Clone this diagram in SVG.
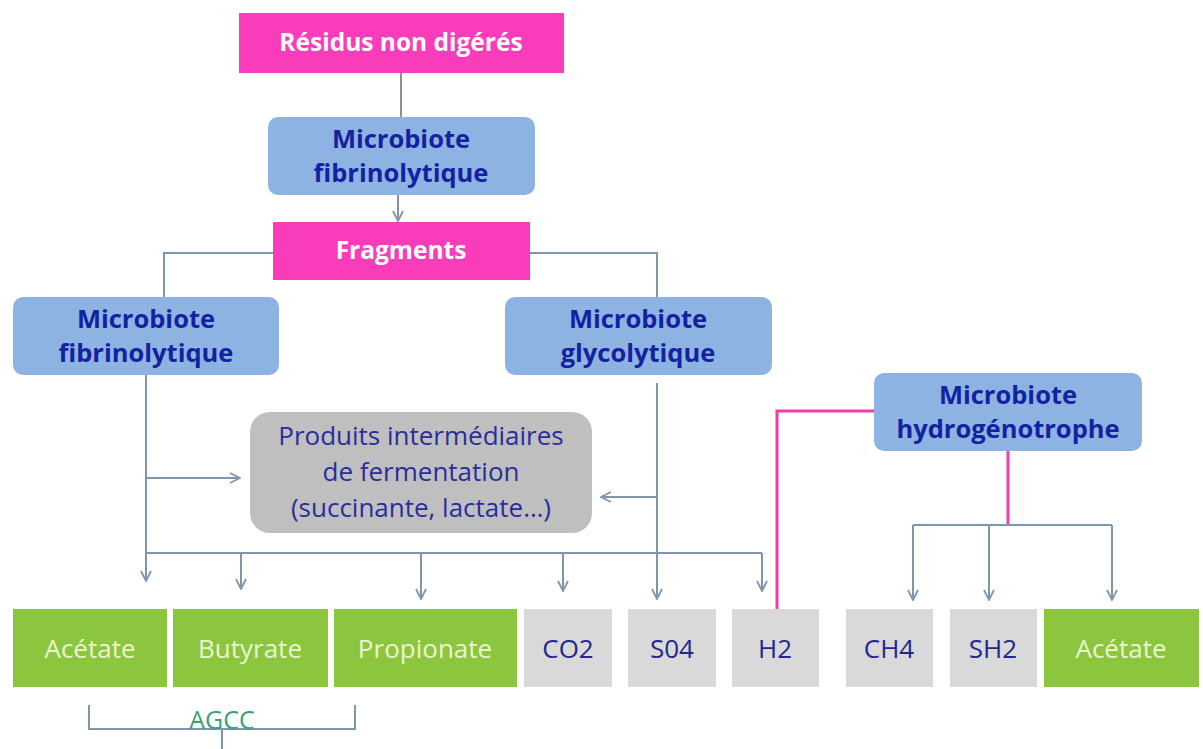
<svg xmlns="http://www.w3.org/2000/svg" width="1203" height="749" viewBox="0 0 1203 749">
<style>
.pink{fill:#F93DBA}
.blue{fill:#8DB3E2}
.gbox{fill:#D9D9D9}
.green{fill:#8CC63F}
.wt{font-family:"Open Sans","Liberation Sans",sans-serif;font-weight:bold;font-size:24.5px;fill:#FFFFFF;text-anchor:middle}
.bt{font-family:"Open Sans","Liberation Sans",sans-serif;font-weight:bold;font-size:25.5px;fill:#1222A0;text-anchor:middle}
.pt{font-family:"Open Sans","Liberation Sans",sans-serif;font-size:26px;fill:#2A2D9C;text-anchor:middle}
.lt{font-family:"Open Sans","Liberation Sans",sans-serif;font-size:26px;text-anchor:middle}
.dk{fill:#23288E}
.lg{fill:#EAF5D2}
.c{fill:none;stroke:#7F95AE;stroke-width:2}
.pk{fill:none;stroke:#EC3FAE;stroke-width:3}
</style>
<defs>
<marker id="ah" viewBox="0 0 12 12" refX="11" refY="6" markerWidth="12" markerHeight="12" markerUnits="userSpaceOnUse" orient="auto">
<path d="M1,1 L11,6 L1,11" fill="none" stroke="#7F95AE" stroke-width="1.8"/>
</marker>
</defs>

<g id="connectors">
<line class="c" x1="401" y1="73" x2="401" y2="117" style="stroke:#8A8F99"/>
<line class="c" x1="398" y1="195" x2="398" y2="221" marker-end="url(#ah)"/>
<path class="c" d="M273,253 H164 V297"/>
<path class="c" d="M530,253 H657 V297"/>
<line class="c" x1="146" y1="375" x2="146" y2="581" marker-end="url(#ah)"/>
<line class="c" x1="146" y1="478" x2="240" y2="478" marker-end="url(#ah)"/>
<line class="c" x1="657" y1="383" x2="657" y2="599" marker-end="url(#ah)"/>
<line class="c" x1="657" y1="497" x2="601" y2="497" marker-end="url(#ah)"/>
<line class="c" x1="146" y1="553" x2="762" y2="553"/>
<line class="c" x1="241" y1="553" x2="241" y2="589" marker-end="url(#ah)"/>
<line class="c" x1="421" y1="553" x2="421" y2="599" marker-end="url(#ah)"/>
<line class="c" x1="563" y1="553" x2="563" y2="591" marker-end="url(#ah)"/>
<line class="c" x1="762" y1="553" x2="762" y2="591" marker-end="url(#ah)"/>
<path class="pk" d="M874,411 H777 V609"/>
<line class="pk" x1="1008" y1="451" x2="1008" y2="524"/>
<line class="c" x1="913" y1="525" x2="1112" y2="525"/>
<line class="c" x1="913" y1="525" x2="913" y2="600" marker-end="url(#ah)"/>
<line class="c" x1="989" y1="525" x2="989" y2="600" marker-end="url(#ah)"/>
<line class="c" x1="1112" y1="525" x2="1112" y2="600" marker-end="url(#ah)"/>
<path class="c" d="M89,705 V729 H355 V705"/>
<line class="c" x1="222" y1="729" x2="222" y2="749"/>
</g>

<g id="residus">
<rect class="pink" x="239" y="13" width="325" height="60"/>
<text class="wt" x="401" y="51">Résidus non digérés</text>
</g>

<g id="microbiote-fibrino-top">
<rect class="blue" x="268" y="117" width="267" height="78" rx="10"/>
<text class="bt" x="401" y="148">Microbiote</text>
<text class="bt" x="401" y="182">fibrinolytique</text>
</g>

<g id="fragments">
<rect class="pink" x="273" y="222" width="257" height="58"/>
<text class="wt" x="401" y="259">Fragments</text>
</g>

<g id="microbiote-fibrino">
<rect class="blue" x="13" y="297" width="266" height="78" rx="10"/>
<text class="bt" x="146" y="328">Microbiote</text>
<text class="bt" x="146" y="362">fibrinolytique</text>
</g>

<g id="microbiote-glyco">
<rect class="blue" x="505" y="297" width="267" height="78" rx="10"/>
<text class="bt" x="638" y="328">Microbiote</text>
<text class="bt" x="638" y="362">glycolytique</text>
</g>

<g id="microbiote-hydro">
<rect class="blue" x="874" y="373" width="268" height="78" rx="10"/>
<text class="bt" x="1008" y="404">Microbiote</text>
<text class="bt" x="1008" y="438">hydrogénotrophe</text>
</g>

<g id="produits">
<rect x="250" y="412" width="342" height="121" rx="20" fill="#BFBFBF"/>
<text class="pt" x="421" y="445">Produits intermédiaires</text>
<text class="pt" x="421" y="481">de fermentation</text>
<text class="pt" x="421" y="517">(succinante, lactate…)</text>
</g>

<g id="acetate1">
<rect class="green" x="13" y="609" width="154" height="78"/>
<text class="lt lg" x="90" y="658">Acétate</text>
</g>
<g id="butyrate">
<rect class="green" x="173" y="609" width="155" height="78"/>
<text class="lt lg" x="250" y="658">Butyrate</text>
</g>
<g id="propionate">
<rect class="green" x="334" y="609" width="183" height="78"/>
<text class="lt lg" x="425" y="658">Propionate</text>
</g>
<g id="co2">
<rect class="gbox" x="524" y="609" width="88" height="78"/>
<text class="lt dk" x="568" y="658">CO2</text>
</g>
<g id="s04">
<rect class="gbox" x="628" y="609" width="88" height="78"/>
<text class="lt dk" x="672" y="658">S04</text>
</g>
<g id="h2">
<rect class="gbox" x="732" y="609" width="87" height="78"/>
<text class="lt dk" x="775" y="658">H2</text>
</g>
<g id="ch4">
<rect class="gbox" x="846" y="609" width="87" height="78"/>
<text class="lt dk" x="889" y="658">CH4</text>
</g>
<g id="sh2">
<rect class="gbox" x="950" y="609" width="87" height="78"/>
<text class="lt dk" x="993" y="658">SH2</text>
</g>
<g id="acetate2">
<rect class="green" x="1044" y="609" width="155" height="78"/>
<text class="lt lg" x="1121" y="658">Acétate</text>
</g>

<g id="agcc">
<text x="222" y="729" font-family="Open Sans, Liberation Sans, sans-serif" font-size="25" fill="#3A9E78" text-anchor="middle">AGCC</text>
</g>
</svg>
